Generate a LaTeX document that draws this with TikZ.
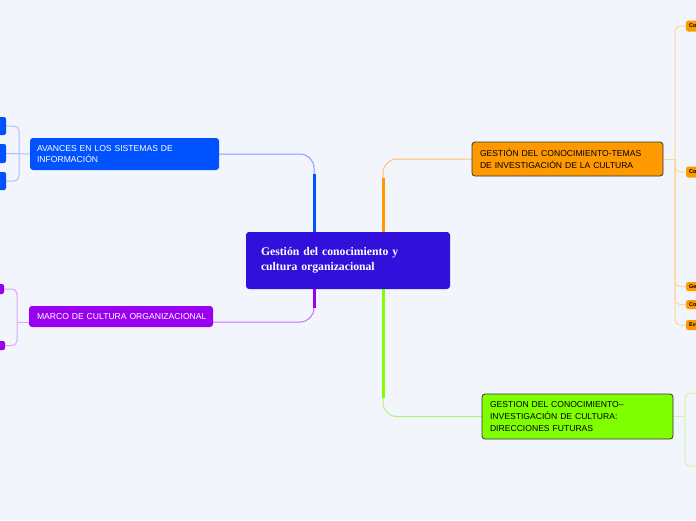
\documentclass[tikz,border=0pt]{standalone}
\usepackage{fontspec}
\setmainfont{Liberation Serif}
\setsansfont{Liberation Sans}
\usetikzlibrary{backgrounds}
\definecolor{bgc}{HTML}{F3F5FD}
\definecolor{cen}{HTML}{3210DC}
\definecolor{cblue}{HTML}{0052FF}
\definecolor{cblueL}{HTML}{7FA0FF}
\definecolor{cblueB}{HTML}{A9BEFF}
\definecolor{cpur}{HTML}{9A00F0}
\definecolor{cpurL}{HTML}{C670F5}
\definecolor{cpurB}{HTML}{DDA8F8}
\definecolor{cora}{HTML}{FF9900}
\definecolor{coraL}{HTML}{FFC266}
\definecolor{coraB}{HTML}{FFD699}
\definecolor{cgre}{HTML}{80FF00}
\definecolor{cgreL}{HTML}{B4F27A}
\definecolor{cgreB}{HTML}{CFF5AA}
\definecolor{edge}{HTML}{333333}
\tikzset{
  topic/.style={rounded corners=3pt, align=left, inner ysep=0pt,
    font=\sffamily\fontsize{8.6}{11.8}\selectfont},
  centralbox/.style={rounded corners=3pt, align=left, inner ysep=0pt, fill=cen,
    text=white, font=\rmfamily\bfseries\fontsize{11.7}{15}\selectfont},
  kid/.style={rounded corners=2pt, inner sep=0pt},
  okid/.style={kid, fill=cora, anchor=west, minimum width=40, inner xsep=3pt,
    text width=34, align=left, font=\sffamily\bfseries\fontsize{5.5}{5.5}\selectfont},
  thinconn/.style={line width=1pt, rounded corners=14pt},
  brack/.style={line width=1pt, rounded corners=5pt},
  trunk/.style={line width=3pt}
}
\begin{document}
\begin{tikzpicture}[x=1pt,y=-1pt]
\useasboundingbox (0,0) rectangle (696,520);

% central
\node[centralbox, minimum height=57, text width=174, inner xsep=15] (cm) at (348,260.5)
  {Gestión del conocimiento y\\cultura organizacional};

% main topics
\node[topic, fill=cblue, text=white, minimum height=32, text width=175, inner xsep=7] (b1) at (124.5,154)
  {AVANCES EN LOS SISTEMAS DE\\INFORMACIÓN};
\node[topic, fill=cpur, text=white, minimum height=21, text width=168, inner xsep=8] (p1) at (121,316.5)
  {\mbox{MARCO DE CULTURA ORGANIZACIONAL}};
\node[topic, fill=cora, draw=edge, line width=0.8pt, text=black, minimum height=34, text width=175, inner xsep=8] (o1) at (567.5,159)
  {GESTIÓN DEL CONOCIMIENTO-TEMAS\\DE INVESTIGACIÓN DE LA CULTURA};
\node[topic, fill=cgre, draw=edge, line width=0.8pt, text=black, minimum height=45, text width=175, inner xsep=8] (g1) at (577.5,416.5)
  {GESTION DEL CONOCIMIENTO--\\INVESTIGACIÓN DE CULTURA:\\DIRECCIONES FUTURAS};

% blue children
\node[kid, fill=cblue, minimum width=30, minimum height=18] (bk1) at (-9,126) {};
\node[kid, fill=cblue, minimum width=30, minimum height=19] (bk2) at (-9,153.5) {};
\node[kid, fill=cblue, minimum width=30, minimum height=18] (bk3) at (-9,181) {};

% purple children
\node[kid, fill=cpur, minimum width=30, minimum height=10] (pk1) at (-11,289) {};
\node[kid, fill=cpur, minimum width=30, minimum height=9] (pk2) at (-10,345.5) {};

% orange children
\node[okid, minimum height=11] (ok1) at (686,26) {Co};
\node[okid, minimum height=11] (ok2) at (686,172) {Co};
\node[okid, minimum height=9] (ok3) at (686,286.5) {Ge};
\node[okid, minimum height=9] (ok4) at (686,304.5) {Co};
\node[okid, minimum height=10] (ok5) at (686,325) {Ev};

% coordinates
\coordinate (cmB) at (314,232);
\coordinate (cmBt) at (314,174);
\coordinate (cmO) at (383,232);
\coordinate (cmOt) at (383,178);
\coordinate (cmP) at (314,289);
\coordinate (cmPt) at (314,308);
\coordinate (cmG) at (383,289);
\coordinate (cmGt) at (383,398);
\coordinate (bj) at (19,153.5);
\coordinate (pj) at (17,322);
\coordinate (oj) at (675,159);
\coordinate (gj) at (685,416.5);
\coordinate (gk1) at (705,393);
\coordinate (gk2) at (705,466);

\begin{pgfonlayer}{background}
\fill[bgc] (0,0) rectangle (696,520);

% main branches
\draw[thinconn, cblueL] (b1.east) -| (cmB);
\draw[trunk, cblue] (cmB) -- (cmBt);
\draw[thinconn, cpurL] ([yshift=-5.5pt]p1.east) -| (cmP);
\draw[trunk, cpur] (cmP) -- (cmPt);
\draw[thinconn, coraL] (o1.west) -| (cmO);
\draw[trunk, cora] (cmO) -- (cmOt);
\draw[thinconn, cgreL] (g1.west) -| (cmG);
\draw[trunk, cgre] (cmG) -- (cmGt);

% blue bracket
\draw[brack, cblueB] (b1.west) -- (bk2.east);
\draw[brack, cblueB] (bk1.east) -| (bj) |- (bk3.east);

% purple bracket
\draw[brack, cpurB] ([yshift=-5.5pt]p1.west) -- (pj);
\draw[brack, cpurB] (pk1.east) -| (pj) |- (pk2.east);

% orange bracket
\draw[brack, coraB] (o1.east) -- (oj);
\draw[brack, coraB] (ok1.west) -| (oj) |- (ok5.west);
\draw[brack, coraB] (oj) |- (ok2.west);
\draw[brack, coraB] (oj) |- (ok3.west);
\draw[brack, coraB] (oj) |- (ok4.west);

% green bracket
\draw[brack, cgreB] (g1.east) -- (gj);
\draw[brack, cgreB] (gk1) -| (gj) |- (gk2);
\end{pgfonlayer}
\end{tikzpicture}
\end{document}
